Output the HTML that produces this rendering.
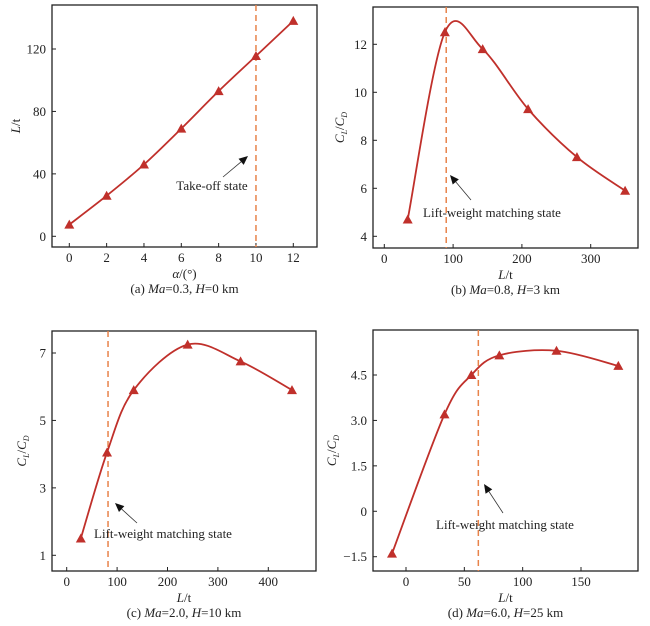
<!DOCTYPE html>
<html><head><meta charset="utf-8"><style>
body{margin:0;background:#fff}
svg{display:block;font-family:"Liberation Serif",serif}
</style></head><body>
<svg id="fig" width="650" height="626" viewBox="0 0 650 626"></svg>
<script>
// Panel (a)
const aX=[0,2,4,6,8,10,12];
const aY=[7.5,26,46,69,93,115.5,138];
const aXTicks=[0,2,4,6,8,10,12];
const aYTicks=[0,40,80,120];
// Panel (b)
const bX=[34,88,143,209,280,350];
const bY=[4.7,12.5,11.8,9.3,7.3,5.9];
const bXTicks=[0,100,200,300];
const bYTicks=[4,6,8,10,12];
// Panel (c)
const cX=[28,80,133,240,345,447];
const cY=[1.5,4.05,5.9,7.25,6.75,5.9];
const cXTicks=[0,100,200,300,400];
const cYTicks=[1,3,5,7];
// Panel (d)
const dX=[-12,33,56,80,129,182];
const dY=[-1.4,3.2,4.5,5.15,5.3,4.8];
const dXTicks=[0,50,100,150];
const dYTicks=[-1.5,0,1.5,3.0,4.5];
const dYLabels=["\u22121.5","0","1.5","3.0","4.5"];

const NS="http://www.w3.org/2000/svg";
const svg=document.getElementById('fig');
function mk(tag,attrs,parent,text){const e=document.createElementNS(NS,tag);for(const k in attrs)e.setAttribute(k,attrs[k]);if(text!==undefined)e.textContent=text;(parent||svg).appendChild(e);return e;}

function panel(cfg){
  const g=mk('g',{});
  
  
  const sx=v=>cfg.x0px+(v-cfg.x0v)*(cfg.x1px-cfg.x0px)/(cfg.x1v-cfg.x0v);
  const sy=v=>cfg.y0px+(v-cfg.y0v)*(cfg.y1px-cfg.y0px)/(cfg.y1v-cfg.y0v);
  const box=mk('rect',{x:cfg.bx,y:cfg.by,width:cfg.bw,height:cfg.bh,fill:'none',stroke:'#222','stroke-width':1.3},g);
  
  
  cfg.xt.forEach((t,i)=>{
    const x=sx(t);
    mk('line',{x1:x,x2:x,y1:cfg.by+cfg.bh,y2:cfg.by+cfg.bh-4,stroke:'#222'},g);
    const tx=mk('text',{x:x,y:cfg.by+cfg.bh+15,'text-anchor':'middle','font-size':13,fill:'#222'},g,String(t));
    
    
  });
  cfg.yt.forEach((t,i)=>{
    const y=sy(t);
    mk('line',{x1:cfg.bx,x2:cfg.bx+4,y1:y,y2:y,stroke:'#222'},g);
    const ty=mk('text',{x:cfg.bx-6,y:y+4.5,'text-anchor':'end','font-size':13,fill:'#222'},g,cfg.yl?cfg.yl[i]:String(t));
    
    
  });
  const dl=mk('line',{x1:sx(cfg.dash),x2:sx(cfg.dash),y1:cfg.by,y2:cfg.by+cfg.bh,stroke:'#e8834a','stroke-width':1.5,'stroke-dasharray':'6,4'},g);
  
  
  const P=cfg.xs.map((v,i)=>[sx(v),sy(cfg.ys[i])]);
  let d='M'+P[0][0]+','+P[0][1];
  for(let i=0;i<P.length-1;i++){
    const p0=P[Math.max(0,i-1)],p1=P[i],p2=P[i+1],p3=P[Math.min(P.length-1,i+2)];
    const c1=[p1[0]+(p2[0]-p0[0])/6,p1[1]+(p2[1]-p0[1])/6];
    const c2=[p2[0]-(p3[0]-p1[0])/6,p2[1]-(p3[1]-p1[1])/6];
    d+=' C'+c1[0]+','+c1[1]+' '+c2[0]+','+c2[1]+' '+p2[0]+','+p2[1];
  }
  const ln=mk('path',{d:d,fill:'none',stroke:'#c0302b','stroke-width':1.8},g);
  
  
  P.forEach(p=>{
    const m=mk('polygon',{points:`${p[0]},${p[1]-5} ${p[0]-5},${p[1]+4} ${p[0]+5},${p[1]+4}`,fill:'#c0302b'},g);
    
    
  });
  const a=cfg.arrow;
  const ang=Math.atan2(a[3]-a[1],a[2]-a[0]);
  const hx=a[2]-9*Math.cos(ang),hy=a[3]-9*Math.sin(ang);
  mk('line',{x1:a[0],y1:a[1],x2:hx,y2:hy,stroke:'#333','stroke-width':0.8},g);
  const ah=mk('polygon',{points:`${a[2]},${a[3]} ${hx+4*Math.sin(ang)},${hy-4*Math.cos(ang)} ${hx-4*Math.sin(ang)},${hy+4*Math.cos(ang)}`,fill:'#111'},g);
  
  
  const at=mk('text',{x:cfg.tx,y:cfg.ty,'text-anchor':'middle','font-size':13,fill:'#222'},g,cfg.note);
  
  
  const xl=mk('text',{x:cfg.bx+cfg.bw/2,y:cfg.by+cfg.bh+31,'text-anchor':'middle','font-size':13,fill:'#222'},g);
  xl.innerHTML=cfg.xlab;
  
  
  const yl=mk('text',{x:0,y:0,'text-anchor':'middle','font-size':13,fill:'#222',transform:`translate(${cfg.ylx},${cfg.by+cfg.bh/2}) rotate(-90)`},g);
  yl.innerHTML=cfg.ylab;
  
  
  const cap=mk('text',{x:cfg.bx+cfg.bw/2,y:cfg.by+cfg.bh+46,'text-anchor':'middle','font-size':13,fill:'#222'},g);
  cap.innerHTML=cfg.cap;
  
  
}
const CLCD='<tspan font-style="italic">C</tspan><tspan font-style="italic" font-size="8" dy="3">L</tspan><tspan dy="-3">/</tspan><tspan font-style="italic">C</tspan><tspan font-style="italic" font-size="8" dy="3">D</tspan>';
const LT='<tspan font-style="italic">L</tspan>/t';
panel({name:'panel-a',bx:52,by:5,bw:265,bh:242,x0v:0,x1v:12,x0px:69.3,x1px:293.3,y0v:0,y1v:120,y0px:236.3,y1px:49,
  xt:aXTicks,yt:aYTicks,xs:aX,ys:aY,dash:10,arrow:[223,177,248,156],tx:212,ty:190,note:'Take-off state',
  xlab:'<tspan font-style="italic">α</tspan>/(°)',ylab:LT,ylx:20,cap:'(a) <tspan font-style="italic">Ma</tspan>=0.3, <tspan font-style="italic">H</tspan>=0 km'});
panel({name:'panel-b',bx:373,by:7,bw:265,bh:241,x0v:0,x1v:300,x0px:384.3,x1px:590.7,y0v:4,y1v:12,y0px:236.3,y1px:44.3,
  xt:bXTicks,yt:bYTicks,xs:bX,ys:bY,dash:90,arrow:[471,200,450,175],tx:492,ty:217,note:'Lift-weight matching state',
  xlab:LT,ylab:CLCD,ylx:344,cap:'(b) <tspan font-style="italic">Ma</tspan>=0.8, <tspan font-style="italic">H</tspan>=3 km'});
panel({name:'panel-c',bx:52,by:331,bw:264,bh:240,x0v:0,x1v:400,x0px:66.7,x1px:268.3,y0v:1,y1v:7,y0px:555.3,y1px:353,
  xt:cXTicks,yt:cYTicks,xs:cX,ys:cY,dash:82,arrow:[137,523,115,503],tx:163,ty:538,note:'Lift-weight matching state',
  xlab:LT,ylab:CLCD,ylx:26,cap:'(c) <tspan font-style="italic">Ma</tspan>=2.0, <tspan font-style="italic">H</tspan>=10 km'});
panel({name:'panel-d',bx:373,by:330,bw:265,bh:241,x0v:0,x1v:150,x0px:406,x1px:581,y0v:-1.5,y1v:4.5,y0px:556.7,y1px:375,
  xt:dXTicks,yt:dYTicks,yl:dYLabels,xs:dX,ys:dY,dash:62,arrow:[503,513,484,484],tx:505,ty:529,note:'Lift-weight matching state',
  xlab:LT,ylab:CLCD,ylx:336,cap:'(d) <tspan font-style="italic">Ma</tspan>=6.0, <tspan font-style="italic">H</tspan>=25 km'});
</script>
</body></html>
